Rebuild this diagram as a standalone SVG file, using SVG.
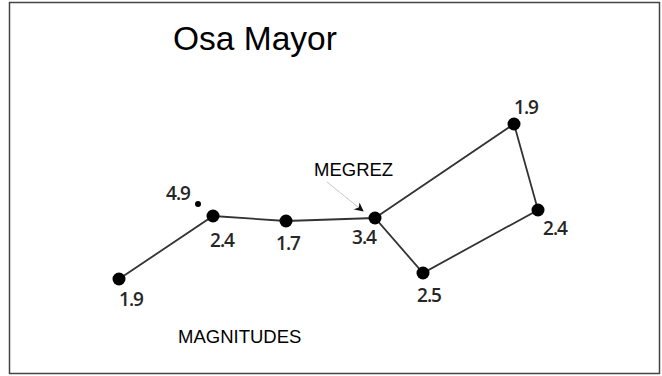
<svg xmlns="http://www.w3.org/2000/svg" width="662" height="376" viewBox="0 0 662 376">
<style>
.lbl{font-family:"Open Sans","Liberation Sans",sans-serif;font-size:19px;font-weight:600;fill:#262626;text-anchor:middle;letter-spacing:-1px}
.txt{font-family:"Liberation Sans",Arial,sans-serif;fill:#000}
.star{fill:#000}
.edge{stroke:#333;stroke-width:1.8;fill:none}
</style>
<defs>
<marker id="ah" viewBox="0 0 10 10" refX="9" refY="5" markerWidth="9" markerHeight="9" markerUnits="userSpaceOnUse" orient="auto">
<path d="M0,0 L10,5 L0,10 L3,5 Z" fill="#111"/>
</marker>
</defs>
<rect x="9.5" y="2.5" width="650" height="371" fill="#fff" stroke="#444" stroke-width="1.5"/>
<text class="txt" x="173" y="50" font-size="33.5">Osa Mayor</text>
<g id="connectors">
<polyline class="edge" points="119,279 213,216 286,221 375,218 423,273 538,210 514,124 375,218"/>
<line x1="327" y1="182" x2="363" y2="211" stroke="#c8c8c8" stroke-width="1" marker-end="url(#ah)"/>
</g>
<g id="star-a"><circle class="star" cx="119" cy="279" r="6.5"/><text class="lbl" x="131" y="306">1.9</text></g>
<g id="star-b"><circle class="star" cx="213" cy="216" r="6.5"/><text class="lbl" x="222" y="247">2.4</text></g>
<g id="star-small"><circle class="star" cx="198" cy="204" r="3"/><text class="lbl" x="178" y="200">4.9</text></g>
<g id="star-c"><circle class="star" cx="286" cy="221" r="6.5"/><text class="lbl" x="288" y="250">1.7</text></g>
<g id="star-d"><circle class="star" cx="375" cy="218" r="6.5"/><text class="lbl" x="364" y="244">3.4</text></g>
<g id="star-e"><circle class="star" cx="423" cy="273" r="6.5"/><text class="lbl" x="429" y="302">2.5</text></g>
<g id="star-f"><circle class="star" cx="538" cy="210" r="6.5"/><text class="lbl" x="555" y="235">2.4</text></g>
<g id="star-g"><circle class="star" cx="514" cy="124" r="6.5"/><text class="lbl" x="526" y="114">1.9</text></g>
<text class="txt" x="314" y="176" font-size="18.5">MEGREZ</text>
<text class="txt" x="178" y="343" font-size="18.5">MAGNITUDES</text>
</svg>
